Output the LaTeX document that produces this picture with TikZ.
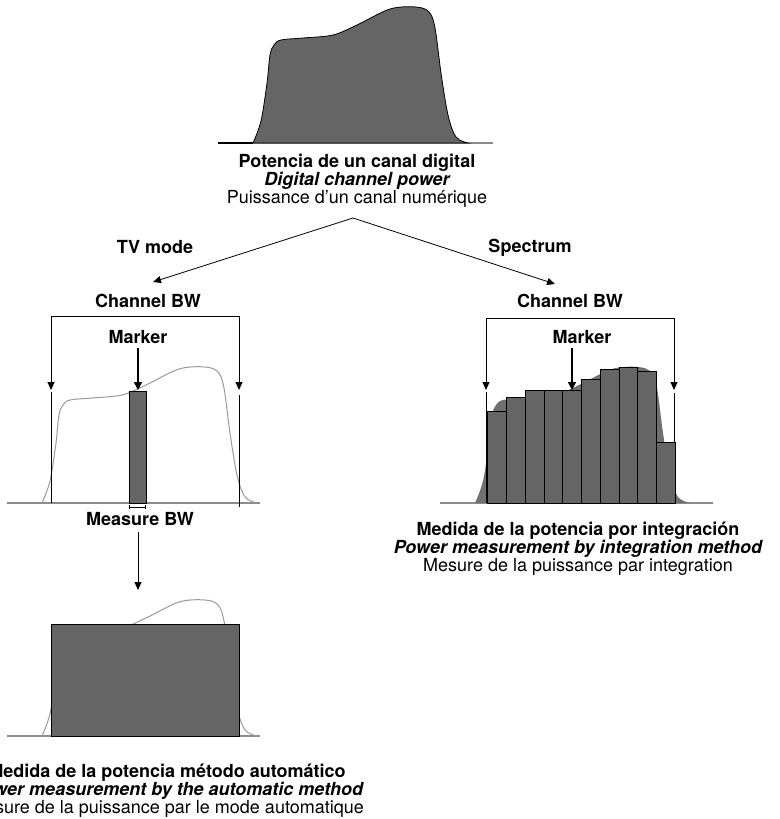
\documentclass[tikz,border=0pt]{standalone}
\usepackage{fontspec}
\setmainfont{TeX Gyre Heros}
\usetikzlibrary{arrows.meta}
\definecolor{bardark}{HTML}{656565}
\definecolor{curvegray}{HTML}{9A9A9A}
\definecolor{basegray}{HTML}{8C8C8C}
\definecolor{shadegray}{HTML}{707070}
\newcommand{\speccurve}{plot[smooth,tension=0.55] coordinates {(0,0) (8,-22) (14,-60) (17,-88) (21,-98) (28,-103) (50,-105) (80,-108) (104,-118) (137,-134) (163,-136) (176,-131) (182,-115) (188,-70) (195,-28) (203,-6) (215,0)}}
\tikzset{
  lblb/.style={font=\fontsize{18}{18}\selectfont\bfseries, anchor=base, inner sep=0pt},
  lbli/.style={font=\fontsize{18}{18}\selectfont\bfseries\itshape, anchor=base, inner sep=0pt},
  lblr/.style={font=\fontsize{18}{18}\selectfont, anchor=base, inner sep=0pt},
  tri/.tip={Triangle[length=8pt,width=7pt]},
  thinarrow/.style={draw=black, line width=0.8pt, -{Triangle[length=8pt,width=7pt]}},
  bracket/.style={draw=black, line width=1pt, tri-tri},
  markarrow/.style={draw=black, line width=1.5pt, -{Triangle[length=8pt,width=8pt]}},
  edgeline/.style={draw=black, line width=1pt},
  baseline/.style={draw=basegray, line width=1.3pt},
  outline/.style={draw=curvegray, line width=1pt},
  barbox/.style={fill=bardark, draw=black, line width=0.9pt},
}
\begin{document}
\begin{tikzpicture}[x=1pt,y=-1pt]
\useasboundingbox (0,0) rectangle (779,819);

% ---------- top spectrum ----------
\draw[baseline] (218,143) -- (493,143);
\draw[black, line width=1.8pt] (218,143) -- (253,143);
\fill[bardark, draw=black, line width=0.8pt] [shift={(253,143)}] \speccurve -- cycle;
\node[lblb] (t1) at (357,167) {Potencia de un canal digital};
\node[lbli] (t2) at (357,185) {Digital channel power};
\node[lblr] (t3) at (357,203) {Puissance d’un canal numérique};

% ---------- split arrows ----------
\coordinate (apex) at (353,218);
\coordinate (tipL) at (153,282);
\coordinate (tipR) at (555,284);
\draw[thinarrow] (apex) -- (tipL);
\draw[thinarrow] (apex) -- (tipR);
\node[lblb] (tv) at (155,253) {TV mode};
\node[lblb] (sp) at (530,252) {Spectrum};

% ---------- left panel (TV mode) ----------
\node[lblb] (cbwL) at (148,307) {Channel BW};
\coordinate (bLa) at (51,390);
\coordinate (bLb) at (51,316);
\coordinate (bLc) at (239,316);
\coordinate (bLd) at (239,390);
\draw[bracket] (bLa) -- (bLb) -- (bLc) -- (bLd);
\draw[baseline] (7,503) -- (260,503);
\draw[outline] [shift={(42,503)}] \speccurve;
\draw[edgeline] (51,392) -- (51,503);
\draw[edgeline] (239,395) -- (239,507);
\draw[barbox] (129,391) rectangle (146,503);
\node[lblb] (mkL) at (138,343) {Marker};
\coordinate (mkLs) at (138,348);
\coordinate (mkLe) at (138,390);
\draw[markarrow] (mkLs) -- (mkLe);
\coordinate (mbA) at (129,507);
\coordinate (mbB) at (146,507);
\draw[black, line width=0.8pt, {Bar[width=4pt]}-{Bar[width=4pt]}] (mbA) -- (mbB);
\node[lblb] (mbw) at (140,525) {Measure BW};
\coordinate (dnS) at (138,532);
\coordinate (dnE) at (138,590);
\draw[thinarrow] (dnS) -- (dnE);

% ---------- lower left panel ----------
\draw[baseline] (7,736) -- (260,736);
\draw[outline] [shift={(42,736)}] \speccurve;
\draw[barbox] (51,624) rectangle (239,736);
\node[lblb] (l1) at (167,777) {Medida de la potencia método automático};
\node[lbli] (l2) at (167,795) {Power measurement by the automatic method};
\node[lblr] (l3) at (167,813) {Mesure de la puissance par le mode automatique};

% ---------- right panel (Spectrum) ----------
\node[lblb] (cbwR) at (570,307) {Channel BW};
\coordinate (bRa) at (486,390);
\coordinate (bRb) at (486,318);
\coordinate (bRc) at (674,318);
\coordinate (bRd) at (674,390);
\draw[bracket] (bRa) -- (bRb) -- (bRc) -- (bRd);
\draw[baseline] (440,503) -- (713,503);
\fill[shadegray] [shift={(475,503)}] \speccurve -- cycle;
\draw[edgeline] (486,392) -- (486,503);
\draw[edgeline] (674,393) -- (674,503);
\foreach \xa/\xb/\yt in {487.3/506/411.7, 506/525/397.3, 525/544/390.7, 544/562.7/390.7, 562.7/581/390.7, 581/600/379, 600/619/369.3, 619/637.7/367.3, 637.7/656.7/371.7, 656.7/675/442.3}
  \draw[barbox] (\xa,\yt) rectangle (\xb,503);
\node[lblb] (mkR) at (582,343) {Marker};
\coordinate (mkRs) at (572,348);
\coordinate (mkRe) at (572,390);
\draw[markarrow] (mkRs) -- (mkRe);
\node[lblb] (r1) at (578,535) {Medida de la potencia por integración};
\node[lbli] (r2) at (578,553) {Power measurement by integration method};
\node[lblr] (r3) at (578,571) {Mesure de la puissance par integration};
\end{tikzpicture}
\end{document}
